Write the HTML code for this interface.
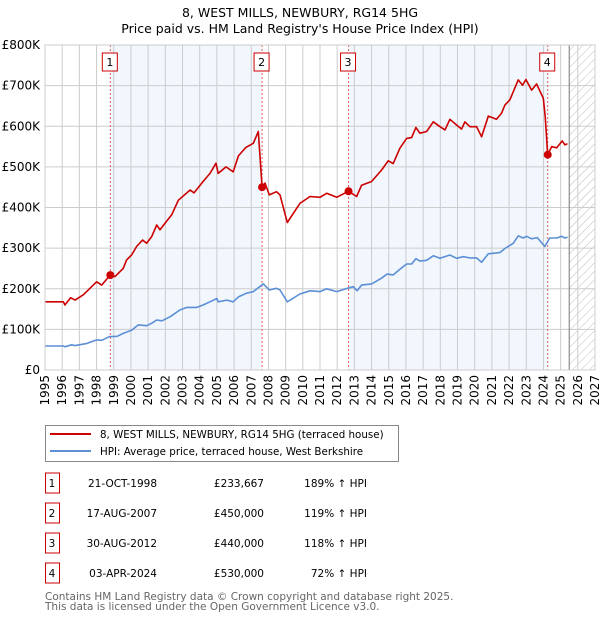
<!DOCTYPE html>
<html><head><meta charset="utf-8"><style>
body{margin:0;background:#fff;width:600px;height:620px;overflow:hidden;font-family:"DejaVu Sans","Liberation Sans",sans-serif}
svg text{font-family:"DejaVu Sans","Liberation Sans",sans-serif}
</style></head><body>
<svg id="chart" width="600" height="620" xmlns="http://www.w3.org/2000/svg">
<text x="300" y="17" text-anchor="middle" font-size="12.5">8, WEST MILLS, NEWBURY, RG14 5HG</text>
<text x="300" y="33" text-anchor="middle" font-size="12.5">Price paid vs. HM Land Registry's House Price Index (HPI)</text>
<g id="plot"></g>
<rect x="45.5" y="425.5" width="353" height="36" fill="#fff" stroke="#888"/>
<line x1="50" y1="434" x2="91" y2="434" stroke="#cc0000" stroke-width="2"/>
<text x="100" y="438" font-size="10.3">8, WEST MILLS, NEWBURY, RG14 5HG (terraced house)</text>
<line x1="50" y1="451" x2="91" y2="451" stroke="#5b8fd6" stroke-width="2"/>
<text x="100" y="455" font-size="10.3">HPI: Average price, terraced house, West Berkshire</text>
<g id="table"></g>
<text x="45" y="600" font-size="10.5" fill="#666">Contains HM Land Registry data © Crown copyright and database right 2025.</text>
<text x="45" y="610" font-size="10.5" fill="#666">This data is licensed under the Open Government Licence v3.0.</text>
</svg>
<script>
const yTicks=[0,100,200,300,400,500,600,700,800];
const yTickLabels=["£0","£100K","£200K","£300K","£400K","£500K","£600K","£700K","£800K"];
const xYears=[1995,1996,1997,1998,1999,2000,2001,2002,2003,2004,2005,2006,2007,2008,2009,2010,2011,2012,2013,2014,2015,2016,2017,2018,2019,2020,2021,2022,2023,2024,2025,2026,2027];
const saleLabels=["1","2","3","4"];
const saleYears=[1998.8,2007.63,2012.66,2024.25];
const saleValues=[233.667,450,440,530];
const saleDates=["21-OCT-1998","17-AUG-2007","30-AUG-2012","03-APR-2024"];
const salePrices=["£233,667","£450,000","£440,000","£530,000"];
const saleHpi=["189% ↑ HPI","119% ↑ HPI","118% ↑ HPI","72% ↑ HPI"];
const redYears=[1995.0,1996.07,1996.16,1996.49,1996.75,1997.23,1998.0,1998.3,1998.8,1999.07,1999.55,1999.75,2000.04,2000.33,2000.68,2000.91,2001.2,2001.5,2001.69,2001.98,2002.37,2002.76,2003.44,2003.67,2004.2,2004.6,2004.95,2005.08,2005.53,2005.95,2006.25,2006.69,2007.12,2007.41,2007.63,2007.8,2008.05,2008.47,2008.67,2009.1,2009.83,2010.42,2011.0,2011.39,2011.97,2012.66,2013.13,2013.42,2014.0,2014.58,2014.97,2015.26,2015.65,2016.04,2016.33,2016.58,2016.81,2017.2,2017.59,2017.98,2018.27,2018.56,2018.95,2019.24,2019.43,2019.72,2020.11,2020.4,2020.79,2021.27,2021.56,2021.76,2022.05,2022.53,2022.79,2022.98,2023.31,2023.6,2023.99,2024.1,2024.25,2024.48,2024.77,2025.1,2025.25,2025.4];
const redValues=[168,168,160,178,172,185,217,209,234,230,250,271,283,304,320,312,328,357,345,361,382,418,443,436,464,484,509,484,500,488,527,548,558,587,450,460,431,439,431,363,410,427,425,435,425,440,427,455,464,492,515,508,546,570,572,597,583,587,611,599,591,617,603,593,611,599,599,574,625,617,632,652,665,714,701,715,689,704,669,624,530,550,547,564,554,557];
const blueYears=[1995.0,1996.07,1996.16,1996.55,1996.75,1997.4,1998.0,1998.3,1998.74,1999.2,1999.55,2000.04,2000.43,2000.91,2001.2,2001.5,2001.8,2002.27,2002.86,2003.25,2003.83,2004.2,2004.6,2005.0,2005.08,2005.57,2005.95,2006.25,2006.73,2007.12,2007.7,2008.05,2008.47,2008.67,2009.1,2009.83,2010.42,2011.0,2011.39,2011.97,2012.59,2012.94,2013.16,2013.42,2014.0,2014.58,2014.9,2015.26,2015.65,2016.04,2016.33,2016.58,2016.81,2017.2,2017.59,2017.98,2018.56,2018.95,2019.33,2019.72,2020.11,2020.4,2020.79,2021.46,2021.76,2022.24,2022.53,2022.82,2023.02,2023.31,2023.64,2024.08,2024.37,2024.77,2025.06,2025.25,2025.4];
const blueValues=[59,59,57,62,60,65,74,73,82,83,90,98,111,109,115,123,121,131,148,154,154,160,168,176,168,172,168,180,189,193,212,197,201,197,168,187,195,193,200,193,201,205,195,209,212,226,236,234,248,261,261,274,268,270,281,275,283,275,279,276,276,265,286,289,299,312,330,325,329,323,326,304,325,325,329,325,327];
const dataEndYear=2025.5;

const NS="http://www.w3.org/2000/svg";
const L=45,R=595,T=45,B=370,Y0=1995,Y1=2027,VMAX=800;
const xS=y=>L+(y-Y0)/(Y1-Y0)*(R-L);
const yS=v=>B-v/VMAX*(B-T);
const plot=document.getElementById('plot');
function mk(tag,attrs,parent){const e=document.createElementNS(NS,tag);for(const k in attrs)e.setAttribute(k,attrs[k]);(parent||plot).appendChild(e);return e;}

for(let i=0;i<saleYears.length;i+=2){
  const x1=xS(saleYears[i]),x2=xS(saleYears[i+1]);
  const r=mk('rect',{x:x1,y:T,width:x2-x1,height:B-T,fill:'#eef3fc',opacity:0.75});
  
  
}
const defs=mk('defs',{});
const pat=mk('pattern',{id:'hatch',width:6,height:6,patternUnits:'userSpaceOnUse',patternTransform:'rotate(45)'},defs);
mk('line',{x1:0,y1:0,x2:0,y2:6,stroke:'#bbb','stroke-width':1},pat);
const hx=xS(dataEndYear);
const hr=mk('rect',{x:hx,y:T,width:R-hx,height:B-T,fill:'url(#hatch)'});


yTicks.forEach((v,i)=>{
  const g=mk('line',{x1:L,x2:R,y1:yS(v),y2:yS(v),stroke:'#ccc','stroke-width':1});
  
  
  const t=mk('text',{x:L-5,y:yS(v)+4,'text-anchor':'end','font-size':12});
  t.textContent=yTickLabels[i];
  
  
});
xYears.forEach(y=>{
  const g=mk('line',{x1:xS(y),x2:xS(y),y1:T,y2:B,stroke:'#ccc','stroke-width':1});
  
  
  const t=mk('text',{x:0,y:0,'text-anchor':'end','font-size':12,transform:`translate(${xS(y)+4},${B+5}) rotate(-90)`});
  t.textContent=y;
  
  
});
const el=mk('line',{x1:hx,x2:hx,y1:T,y2:B,stroke:'#777','stroke-width':1});


saleYears.forEach((y,i)=>{
  const l=mk('line',{x1:xS(y),x2:xS(y),y1:T,y2:B,stroke:'#e06060','stroke-width':1,'stroke-dasharray':'2,2'});
  
  
  const b=mk('rect',{x:xS(y)-8,y:53,width:15,height:18,fill:'#fff',stroke:'#cc0000'});
  
  
  const t=mk('text',{x:xS(y)-0.5,y:66,'text-anchor':'middle','font-size':11});
  t.textContent=saleLabels[i];
  
  
});
function line(xs,vs,col,name){
  const p=mk('path',{d:xs.map((x,i)=>(i?'L':'M')+xS(x).toFixed(1)+','+yS(vs[i]).toFixed(1)).join(''),fill:'none',stroke:col,'stroke-width':1.6,'stroke-linejoin':'round'});
  
  
}
line(blueYears,blueValues,'#5b8fd6','hpi-line');
line(redYears,redValues,'#cc0000','property-price-line');
saleYears.forEach((y,i)=>{
  const c=mk('circle',{cx:xS(y),cy:yS(saleValues[i]),r:4,fill:'#cc0000'});
  
  
});
const fr=mk('rect',{x:L,y:T,width:R-L,height:B-T,fill:'none',stroke:'#ccc'});


const tb=document.getElementById('table');
saleLabels.forEach((s,i)=>{
  const cy=483+i*30;
  const b=mk('rect',{x:45.5,y:cy-10,width:14,height:20,fill:'#fff',stroke:'#cc0000'},tb);
  
  
  const cells=[[52,'middle',s],[157,'end',saleDates[i]],[264,'end',salePrices[i]],[367,'end',saleHpi[i]]];
  cells.forEach(c=>{
    const t=mk('text',{x:c[0],y:cy+4,'text-anchor':c[1],'font-size':10.5},tb);
    t.textContent=c[2];
    
    
  });
});
</script>
</body></html>
